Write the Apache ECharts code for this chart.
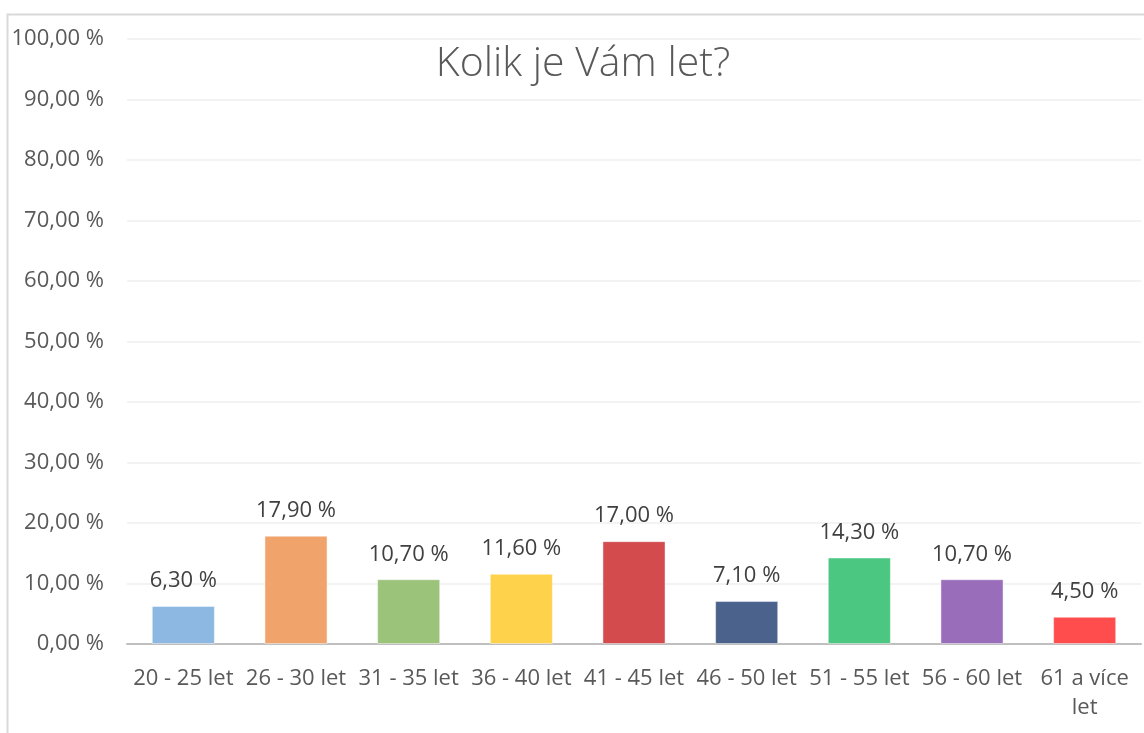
<!DOCTYPE html>
<html>
<head>
<meta charset="utf-8">
<script src="https://cdn.jsdelivr.net/npm/echarts@6/dist/echarts.min.js"></script>
<style>html,body{margin:0;padding:0;background:#fff}#c{width:1144px;height:733px}</style>
</head>
<body>
<div id="c"></div>
<script>
var categories = ['20 - 25 let','26 - 30 let','31 - 35 let','36 - 40 let','41 - 45 let','46 - 50 let','51 - 55 let','56 - 60 let','61 a více let'];
var values = [6.3, 17.9, 10.7, 11.6, 17.0, 7.1, 14.3, 10.7, 4.5];
var barColors = ['#8cb8e2','#f0a46c','#9bc37a','#ffd24c','#d34b4d','#4b628d','#4cc781','#9a6dbb','#ff4d4d'];
var titleText = 'Kolik je Vám let?';

function fmt(v){ return v.toFixed(2).replace('.', ',') + ' %'; }

var chart = echarts.init(document.getElementById('c'));
chart.setOption({
  animation: false,
  backgroundColor: '#fff',
  textStyle: { fontFamily: 'Open Sans' },
  graphic: [
    { type: 'rect', shape: { x: 7.5, y: 14.5, width: 1200, height: 800 }, style: { fill: 'none', stroke: '#d9d9d9', lineWidth: 2 }, silent: true, z: -1 },
    { type: 'text', x: 583, y: 64, style: { text: titleText, fill: '#595959', font: '300 41px "Open Sans"', textAlign: 'center', textVerticalAlign: 'middle' } }
  ],
  grid: { left: 127, right: 3, top: 39, bottom: 89, containLabel: false },
  xAxis: {
    type: 'category',
    data: categories,
    axisLine: { lineStyle: { color: '#bfbfbf', width: 2 } },
    axisTick: { show: false },
    axisLabel: {
      color: '#595959', fontSize: 22, margin: 20, interval: 0, lineHeight: 29,
      formatter: function (v) { return v.length > 11 ? v.replace(/ let$/, '\nlet') : v; }
    }
  },
  yAxis: {
    type: 'value', min: 0, max: 100, interval: 10,
    axisLine: { show: false }, axisTick: { show: false },
    splitLine: { lineStyle: { color: '#efefef', width: 1.5 } },
    axisLabel: { color: '#595959', fontSize: 22, margin: 23, formatter: function (v) { return fmt(v); } }
  },
  series: [{
    type: 'bar',
    barWidth: '56%',
    data: values.map(function (v, i) {
      return { value: v, itemStyle: { color: barColors[i], borderColor: 'rgba(255,255,255,0.45)', borderWidth: 1 } };
    }),
    label: { show: true, position: 'top', distance: 14, color: '#404040', fontSize: 22, formatter: function (p) { return fmt(p.value); } }
  }]
});
</script>
</body>
</html>
